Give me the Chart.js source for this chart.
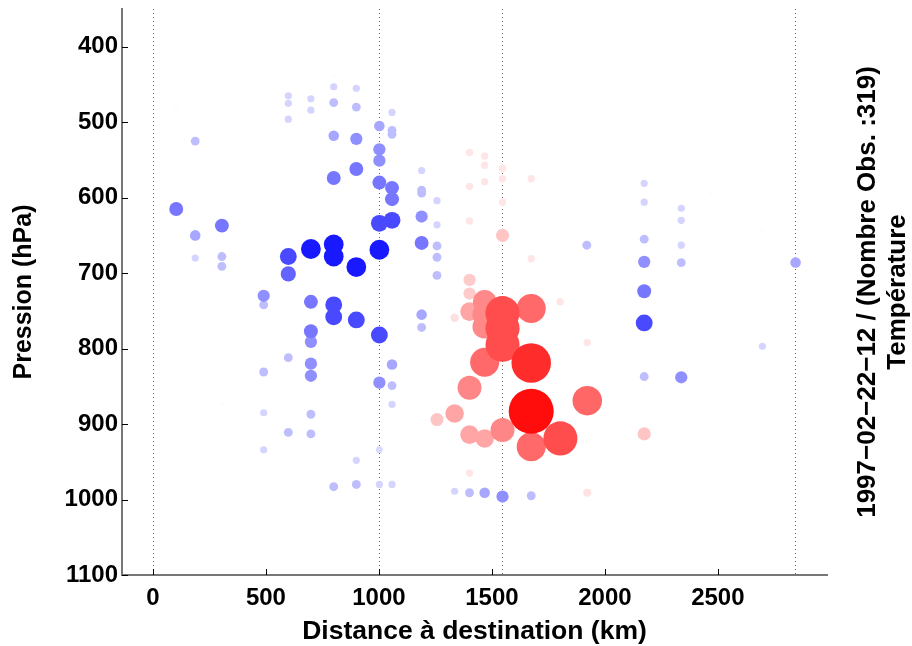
<!DOCTYPE html>
<html>
<head>
<meta charset="utf-8">
<script src="https://cdn.jsdelivr.net/npm/chart.js@4.4.1/dist/chart.umd.min.js"></script>
<style>
  html, body { margin: 0; padding: 0; background: #fff; }
</style>
</head>
<body>
<canvas id="graph" width="912" height="646"></canvas>
<script>
// Distance a destination (km), pression (hPa) et ecart de temperature de chaque observation
const distance = [
  102, 102, 187, 103, 305, 187, 187, 305, 305, 599, 599, 599, 699, 699, 800, 800, 800, 900, 900, 1058,
  1002, 1058, 1058, 800, 900, 1002, 1002, 900, 800, 1002, 1058, 1058, 1002, 1058, 599, 699, 800, 800, 1002, 900,
  599, 490, 490, 699, 800, 800, 900, 1002, 699, 699, 599, 699, 699, 490, 1058, 1002, 1058, 305, 490, 699,
  1058, 599, 699, 490, 1002, 900, 800, 900, 1002, 1058, 1189, 1189, 1189, 1257, 1189, 1257, 1189, 1257, 1257, 1257,
  1189, 1189, 1920, 1335, 1401, 1468, 1547, 1674, 2174, 2174, 2469, 2338, 2338, 2174, 2338, 2174, 2338, 2696, 2844, 2174,
  2174, 2697, 2174, 2174, 2338,
  1401, 1468, 1468, 1547, 1547, 1674, 1468, 1401, 1547, 1401, 1547, 1674, 1802, 1335, 1401, 1401, 1401, 1674, 1468, 1466,
  1466, 1547, 1547, 1547, 1468, 1674, 1401, 1922, 1674, 1335, 1257, 1547, 1401, 1468, 1803, 1674, 1401, 1922, 2174, 1922
];
const pression = [
  481, 487, 525, 615, 637, 650, 680, 678, 691, 465, 475, 496, 469, 484, 438, 453, 474, 455, 480, 487,
  505, 511, 516, 518, 522, 536, 551, 562, 574, 580, 587, 602, 634, 630, 678, 668, 662, 678, 669, 692,
  701, 730, 742, 738, 742, 758, 762, 782, 777, 791, 812, 820, 836, 831, 821, 845, 849, 874, 885, 887,
  874, 911, 913, 934, 934, 948, 983, 980, 980, 980, 564, 590, 594, 604, 625, 636, 660, 664, 679, 703,
  755, 772, 663, 989, 991, 991, 996, 995, 581, 606, 595, 614, 630, 655, 663, 685, 686, 643, 686, 724,
  766, 797, 837, 850, 838,
  540, 545, 557, 561, 575, 575, 579, 585, 606, 631, 650, 681, 738, 759, 709, 727, 751, 747, 738, 755,
  771, 753, 773, 795, 818, 819, 852, 869, 883, 886, 894, 908, 914, 919, 919, 930, 965, 991, 913, 792
];
const ecart = [
  -0.1, -0.1, -1.4, -2.6, -2.6, -1.8, -1.0, -1.4, -1.4, -1.0, -1.0, -1.0, -1.0, -1.0, -0.1, -1.0, -1.4, -1.0, -1.4, -1.0,
  -1.8, -1.4, -1.4, -1.8, -2.2, -2.2, -2.2, -2.6, -2.6, -2.6, -2.6, -2.6, -3.3, -3.3, -3.3, -4.0, -4.0, -4.0, -4.0, -4.0,
  -2.9, -2.2, -1.4, -2.6, -3.3, -3.3, -3.3, -3.3, -2.6, -2.2, -1.4, -2.2, -2.2, -1.4, -1.8, -2.2, -1.4, -0.1, -1.0, -1.4,
  -1.0, -1.4, -1.4, -1.0, -0.9, -1.0, -1.4, -1.4, -1.0, -1.0, -1.0, -1.4, -1.4, -1.0, -2.2, -1.0, -2.6, -1.4, -1.4, -1.4,
  -1.8, -1.4, -1.4, -1.0, -1.4, -1.8, -2.2, -1.4, -1.0, -1.0, -0.1, -1.0, -1.0, -1.4, -1.0, -2.2, -1.4, -0.1, -1.8, -2.6,
  -3.3, -1.0, -1.4, -0.1, -2.2,
  1.05, 1.05, 1.05, 1.05, 1.05, 1.05, 1.05, 1.05, 1.05, 1.05, 2.4, 1.05, 1.05, 1.3, 2.2, 2.2, 3.7, 6.2, 4.9, 4.9,
  4.9, 7.4, 7.4, 7.4, 6.2, 8.7, 5.0, 6.3, 10.0, 3.7, 2.4, 5.0, 3.7, 3.7, 7.4, 6.2, 1.05, 1.2, 2.4, 1.05
];

const xTicks = [0, 500, 1000, 1500, 2000, 2500];
const yTicks = [400, 500, 600, 700, 800, 900, 1000, 1100];
// stations reperees par les lignes pointillees
const repereKm = [0, 1000, 1544, 2841];

const titreDroite = ['1997\u221202\u221222\u221212 / (Nombre Obs. :319)', 'Temp\u00e9rature'];

const police = '"Liberation Sans", Arial, Helvetica, sans-serif';

// points du plus petit au plus grand ecart, les grosses bulles dessinees par dessus
const points = distance.map((d, i) => ({ x: d, y: pression[i], v: ecart[i] }))
  .sort((a, b) => Math.abs(a.v) - Math.abs(b.v));

const maxChaud = Math.max(...ecart);
const maxFroid = Math.max(...ecart.map(v => -v));

function rayon(v) {
  return 1.5 + 2.1 * Math.abs(v);
}
function couleur(v) {
  if (v >= 0) {
    const c = Math.round(255 * (1 - 0.95 * v / maxChaud));
    return `rgb(255,${c},${c})`;
  }
  const c = Math.round(255 * (1 - 0.9 * Math.pow(-v / maxFroid, 1.2)));
  return `rgb(${c},${c},255)`;
}

const reperes = {
  id: 'reperes',
  beforeDatasetsDraw(chart) {
    const { ctx, chartArea, scales } = chart;
    ctx.save();
    ctx.strokeStyle = '#666';
    ctx.lineWidth = 1;
    ctx.setLineDash([1, 3]);
    repereKm.forEach(km => {
      const px = Math.round(scales.x.getPixelForValue(km)) + 0.5;
      ctx.beginPath();
      ctx.moveTo(px, chartArea.top);
      ctx.lineTo(px, chartArea.bottom);
      ctx.stroke();
    });
    ctx.restore();
  },
  afterDraw(chart) {
    const { ctx, chartArea, scales } = chart;
    ctx.save();
    // petites graduations vers l'interieur
    ctx.strokeStyle = '#000';
    ctx.lineWidth = 1;
    yTicks.forEach(t => {
      const py = Math.round(scales.y.getPixelForValue(t)) + 0.5;
      ctx.beginPath();
      ctx.moveTo(chartArea.left, py);
      ctx.lineTo(chartArea.left + 6, py);
      ctx.stroke();
    });
    xTicks.forEach(t => {
      const px = Math.round(scales.x.getPixelForValue(t)) + 0.5;
      ctx.beginPath();
      ctx.moveTo(px, chartArea.bottom);
      ctx.lineTo(px, chartArea.bottom - 6);
      ctx.stroke();
    });
    // titre a droite, lu de bas en haut
    const midY = (chartArea.top + chartArea.bottom) / 2;
    ctx.fillStyle = '#000';
    ctx.font = 'bold 26px ' + police;
    ctx.textAlign = 'center';
    ctx.textBaseline = 'middle';
    titreDroite.forEach((t, i) => {
      ctx.save();
      ctx.translate(868 + i * 30, midY);
      ctx.rotate(-Math.PI / 2);
      ctx.fillText(t, 0, 0);
      ctx.restore();
    });
    ctx.restore();
  }
};

const tickFont = { family: police, size: 24, weight: 'bold' };

new Chart(document.getElementById('graph'), {
  type: 'scatter',
  data: {
    datasets: [{
      data: points,
      backgroundColor: ctx => couleur(ctx.raw.v),
      borderWidth: 0,
      pointRadius: ctx => rayon(ctx.raw.v),
      pointHoverRadius: ctx => rayon(ctx.raw.v)
    }]
  },
  plugins: [reperes],
  options: {
    responsive: false,
    animation: false,
    events: [],
    layout: { autoPadding: false, padding: { left: 0, right: 85, top: 9, bottom: 0 } },
    plugins: {
      legend: { display: false },
      tooltip: { enabled: false }
    },
    scales: {
      x: {
        type: 'linear',
        min: -137,
        max: 2983,
        afterFit: s => { s.height = 71; s.paddingLeft = 0; s.paddingRight = 0; },
        afterBuildTicks: s => { s.ticks = xTicks.map(v => ({ value: v })); },
        grid: { display: false, drawTicks: false },
        border: { display: true, color: '#777', width: 2 },
        ticks: {
          padding: 9,
          color: '#000',
          font: tickFont,
          callback: v => String(v)
        },
        title: {
          display: true,
          text: 'Distance \u00e0 destination (km)',
          color: '#000',
          padding: { top: 0, bottom: 1 },
          font: { family: police, size: 26.5, weight: 'bold', lineHeight: 1 }
        }
      },
      y: {
        type: 'linear',
        reverse: true,
        min: 350,
        max: 1100,
        afterFit: s => { s.width = 122; s.paddingTop = 0; s.paddingBottom = 0; },
        afterBuildTicks: s => { s.ticks = yTicks.map(v => ({ value: v })); },
        grid: { display: false, drawTicks: false },
        border: { display: true, color: '#777', width: 2 },
        ticks: {
          padding: 4,
          color: '#000',
          font: tickFont,
          callback: v => String(v)
        },
        title: {
          display: true,
          text: 'Pression (hPa)',
          color: '#000',
          padding: { top: 12, bottom: 0 },
          font: { family: police, size: 25, weight: 'bold', lineHeight: 1 }
        }
      }
    }
  }
});
</script>
</body>
</html>
